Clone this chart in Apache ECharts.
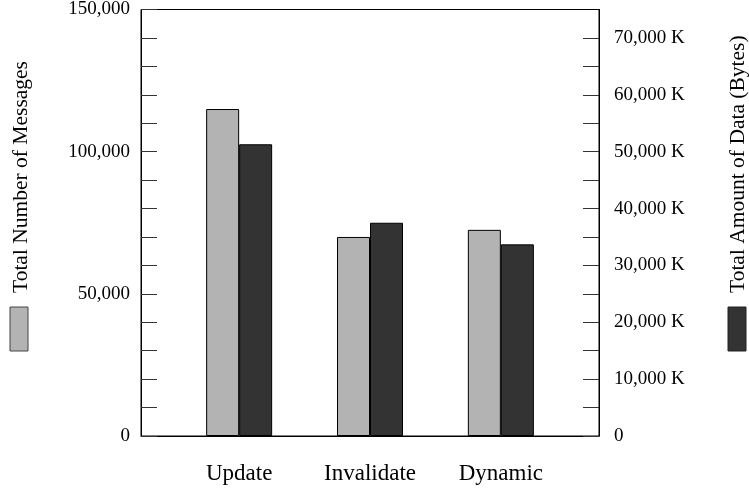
<!DOCTYPE html>
<html>
<head>
<meta charset="utf-8">
<script src="https://cdn.jsdelivr.net/npm/echarts@6/dist/echarts.min.js"></script>
<style>
  html, body { margin: 0; padding: 0; background: #fff; }
  #chart { width: 749px; height: 489px; }
</style>
</head>
<body>
<div id="chart"></div>
<script>
// Protocol categories and their totals
const categories = ['Update', 'Invalidate', 'Dynamic'];
const messageCounts = [115000, 70000, 72500];      // left axis: number of messages
const dataAmountK = [51300, 37500, 33700];          // right axis: data volume in K bytes

const leftTitle = 'Total Number of Messages';
const rightTitle = 'Total Amount of Data (Bytes)';

const FONT = '"Liberation Serif", "Times New Roman", serif';
const GRAY = '#b3b3b3';
const DARK = '#333333';

const fmtThousands = v => String(v).replace(/\B(?=(\d{3})+(?!\d))/g, ',');
const isWhole = v => Math.abs(v - Math.round(v)) < 1e-6;

const chart = echarts.init(document.getElementById('chart'));

chart.setOption({
  animation: false,
  backgroundColor: '#fff',
  grid: {
    left: 141, right: 150, top: 8, bottom: 53,
    show: true, borderColor: '#000', borderWidth: 1, backgroundColor: 'transparent'
  },
  xAxis: {
    type: 'value',
    min: -0.75, max: 2.75, interval: 0.25,
    axisLine: { show: true, onZero: false, lineStyle: { color: '#000', width: 1 } },
    axisTick: { show: false },
    splitLine: { show: false },
    axisLabel: {
      margin: 26,
      fontFamily: FONT, fontSize: 23, color: '#000',
      showMinLabel: true, showMaxLabel: true,
      formatter: v => isWhole(v) && categories[Math.round(v)] !== undefined ? categories[Math.round(v)] : ''
    }
  },
  yAxis: [
    {
      type: 'value', position: 'left',
      min: 0, max: 150000, interval: 10000,
      axisLine: { show: true, onZero: false, lineStyle: { color: '#000', width: 1 } },
      axisTick: { show: true, inside: true, length: 16, lineStyle: { color: '#333', width: 1 } },
      splitLine: { show: false },
      axisLabel: {
        margin: 11, fontFamily: FONT, fontSize: 19, color: '#000',
        padding: [5, 0, 0, 0],
        formatter: v => (v % 50000 === 0 ? fmtThousands(v) : '')
      }
    },
    {
      type: 'value', position: 'right',
      min: 0, max: 75000, interval: 5000,
      axisLine: { show: true, onZero: false, lineStyle: { color: '#000', width: 1 } },
      axisTick: { show: true, inside: true, length: 16, lineStyle: { color: '#333', width: 1 } },
      splitLine: { show: false },
      axisLabel: {
        margin: 15, fontFamily: FONT, fontSize: 19, color: '#000',
        padding: [6, 0, 0, 0],
        showMaxLabel: false,
        formatter: v => (v === 0 ? '0' : (v % 10000 === 0 ? fmtThousands(v) + ' K' : ''))
      }
    }
  ],
  series: [
    {
      name: leftTitle, type: 'bar', yAxisIndex: 0,
      barWidth: 33, barGap: '0%',
      itemStyle: { color: GRAY, borderColor: '#000', borderWidth: 1 },
      data: messageCounts.map((v, i) => [i, v])
    },
    {
      name: rightTitle, type: 'bar', yAxisIndex: 1,
      barWidth: 33, barGap: '0%',
      itemStyle: { color: DARK, borderColor: '#000', borderWidth: 1 },
      data: dataAmountK.map((v, i) => [i, v])
    }
  ],
  graphic: [
    // left key: swatch with upright title above it
    { type: 'rect', shape: { x: 10, y: 307, width: 18, height: 44 },
      style: { fill: GRAY, stroke: '#444', lineWidth: 1 } },
    { type: 'text', x: 21, y: 293, rotation: Math.PI / 2,
      style: { text: leftTitle, font: '21.5px ' + FONT, fill: '#000',
               textAlign: 'left', textVerticalAlign: 'middle' } },
    // right key
    { type: 'rect', shape: { x: 728, y: 307, width: 18, height: 44 },
      style: { fill: DARK, stroke: '#222', lineWidth: 1 } },
    { type: 'text', x: 738, y: 293, rotation: Math.PI / 2,
      style: { text: rightTitle, font: '21.5px ' + FONT, fill: '#000',
               textAlign: 'left', textVerticalAlign: 'middle' } }
  ]
});
</script>
</body>
</html>
